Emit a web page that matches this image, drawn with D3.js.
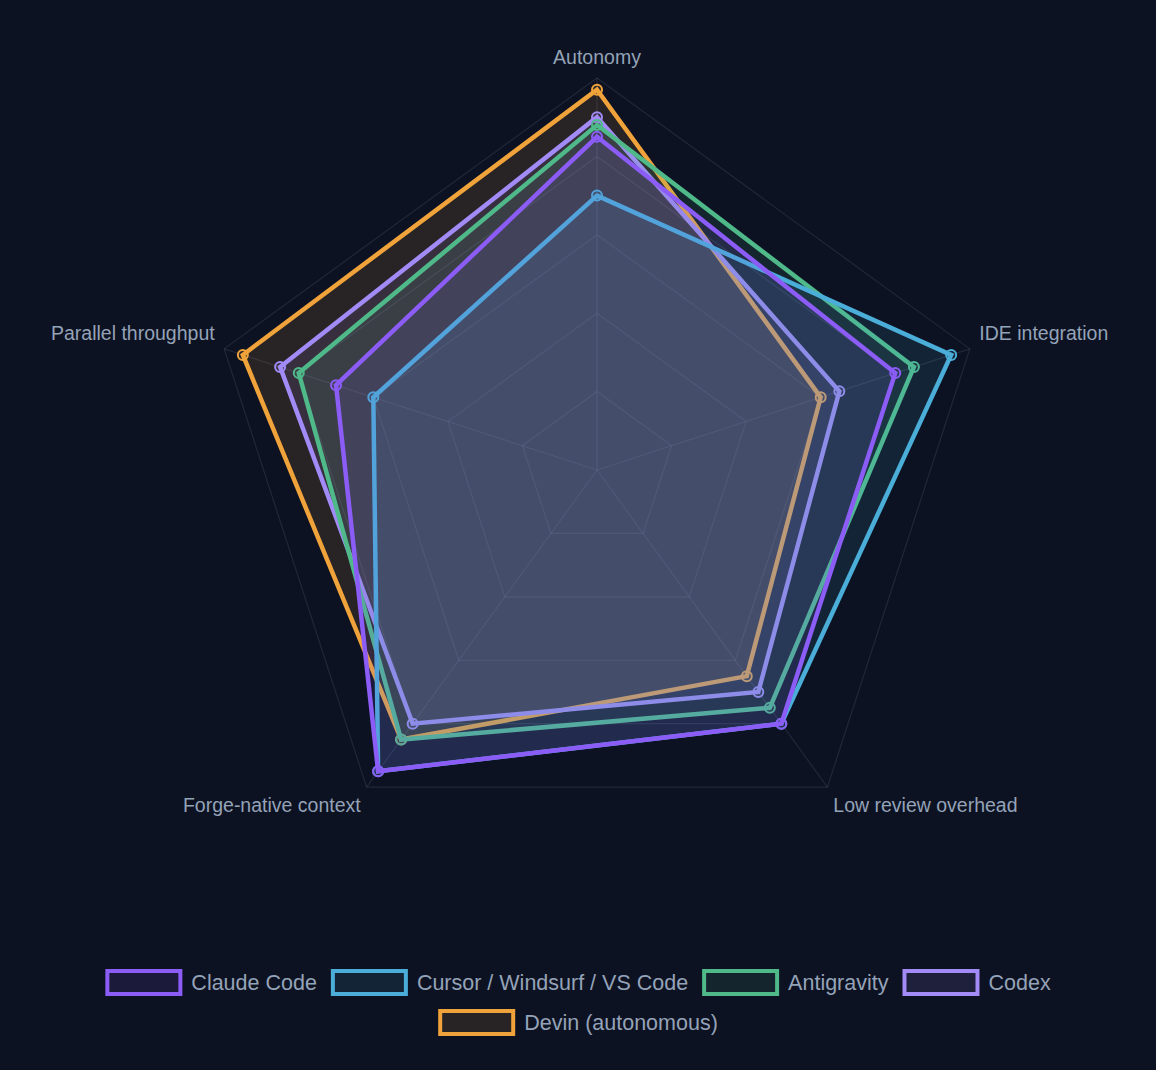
<!DOCTYPE html>
<html lang="en">
<head>
    <meta charset="UTF-8">
    <title>Coding agents radar - D3.js</title>
    <script src="https://d3js.org/d3.v7.min.js"></script>
    <style>
        body { margin: 0; background: #0d1222; }
        svg { display: block; }
        .point-label { font-family: "Liberation Sans", Arial, Helvetica, sans-serif; font-size: 19.5px; fill: #94a3b8; }
        .legend-label { font-family: "Liberation Sans", Arial, Helvetica, sans-serif; font-size: 21.5px; fill: #94a3b8; }
    </style>
</head>
<body>
<svg width="1156" height="1070"></svg>
<script>
    const width = 1156;
    const height = 1070;

    // data
    const axes = ["Autonomy", "IDE integration", "Low review overhead", "Forge-native context", "Parallel throughput"];
    const seriesNames = ["Claude Code", "Cursor / Windsurf / VS Code", "Antigravity", "Codex", "Devin (autonomous)"];
    const claudeCode = [85, 80, 80, 95, 70];
    const cursorIde = [70, 95, 80, 95, 60];
    const antigravity = [88, 85, 75, 85, 80];
    const codex = [90, 65, 70, 80, 85];
    const devin = [97, 60, 65, 85, 95];
    const ticks = [20, 40, 60, 80, 100];

    const colors = ["#8b5cf6", "#4aaed8", "#4fb98a", "#a28bf7", "#f0a33a"];
    const series = [claudeCode, cursorIde, antigravity, codex, devin].map((values, i) => ({
        name: seriesNames[i], values: values, color: colors[i]
    }));

    const cx = 597, cy = 470, radius = 392;
    const r = d3.scaleLinear().domain([0, 100]).range([0, radius]);
    const angle = i => i * 2 * Math.PI / axes.length - Math.PI / 2;
    const pt = (v, i) => [cx + r(v) * Math.cos(angle(i)), cy + r(v) * Math.sin(angle(i))];
    const faded = col => { const c = d3.color(col); c.opacity = 0.12; return c; };

    const svg = d3.select("svg");
    svg.append("rect").attr("width", width).attr("height", height).attr("fill", "#0d1222");

    const grid = "rgba(148,163,184,0.15)";

    // rings
    svg.append("g").selectAll("polygon")
        .data(ticks)
        .enter().append("polygon")
        .attr("points", t => axes.map((a, i) => pt(t, i).join(",")).join(" "))
        .attr("fill", "none")
        .attr("stroke", grid)
        .attr("stroke-width", 1.2);

    // spokes
    svg.append("g").selectAll("line")
        .data(axes)
        .enter().append("line")
        .attr("x1", cx).attr("y1", cy)
        .attr("x2", (a, i) => pt(100, i)[0])
        .attr("y2", (a, i) => pt(100, i)[1])
        .attr("stroke", grid)
        .attr("stroke-width", 1.2);

    // axis labels
    svg.append("g").selectAll("text")
        .data(axes)
        .enter().append("text")
        .attr("class", "point-label")
        .attr("x", (a, i) => cx + (radius + 10) * Math.cos(angle(i)))
        .attr("y", (a, i) => {
            const s = Math.sin(angle(i));
            const y = cy + (radius + 10) * s;
            if (s < -0.9) return y - 4;
            if (s < 0.5) return y - 6;
            return y + 17;
        })
        .attr("text-anchor", (a, i) => {
            const c = Math.cos(angle(i));
            return Math.abs(c) < 0.01 ? "middle" : (c > 0 ? "start" : "end");
        })
        .text(d => d);

    // datasets: first one ends up on top
    const line = d3.line().curve(d3.curveLinearClosed);
    const layers = svg.append("g").selectAll("g")
        .data(series.slice().reverse())
        .enter().append("g");

    layers.append("path")
        .attr("d", d => line(d.values.map((v, i) => pt(v, i))))
        .attr("fill", d => faded(d.color))
        .attr("stroke", d => d.color)
        .attr("stroke-width", 4.5)
        .attr("stroke-linejoin", "miter");

    layers.selectAll("circle")
        .data(d => d.values.map((v, i) => ({ v: v, i: i, color: d.color })))
        .enter().append("circle")
        .attr("cx", d => pt(d.v, d.i)[0])
        .attr("cy", d => pt(d.v, d.i)[1])
        .attr("r", 5)
        .attr("fill", d => faded(d.color))
        .attr("stroke", d => d.color)
        .attr("stroke-width", 2);

    // legend
    const boxW = 73, boxH = 23, gap = 9, itemGap = 16, rowH = 40;
    const legend = svg.append("g");
    const items = series.map(s => {
        const g = legend.append("g");
        g.append("rect")
            .attr("width", boxW).attr("height", boxH)
            .attr("fill", faded(s.color))
            .attr("stroke", s.color)
            .attr("stroke-width", 4);
        const t = g.append("text")
            .attr("class", "legend-label")
            .attr("x", boxW + 2 + gap)
            .attr("y", boxH / 2 + 7.5)
            .text(s.name);
        return { g: g, w: boxW + 2 + gap + t.node().getComputedTextLength() };
    });

    const rows = [[]];
    let rowWidth = 0;
    items.forEach(it => {
        const add = (rows[rows.length - 1].length ? itemGap : 0) + it.w;
        if (rowWidth + add > width - 40 && rows[rows.length - 1].length) {
            rows.push([it]);
            rowWidth = it.w;
        } else {
            rows[rows.length - 1].push(it);
            rowWidth += add;
        }
    });

    rows.forEach((row, ri) => {
        const total = d3.sum(row, d => d.w) + itemGap * (row.length - 1);
        let x = width / 2 - total / 2;
        row.forEach(it => {
            it.g.attr("transform", `translate(${x + 1},${971 + ri * rowH})`);
            x += it.w + itemGap;
        });
    });
</script>
</body>
</html>
